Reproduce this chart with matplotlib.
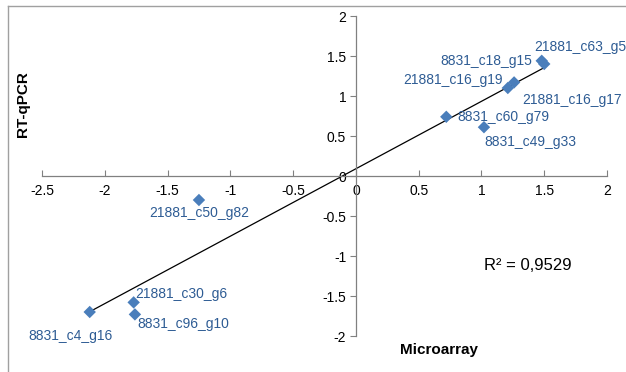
import numpy as np
import matplotlib
matplotlib.use("Agg")
import matplotlib.pyplot as plt
from matplotlib.lines import Line2D

# data
genes = ["8831_c4_g16", "21881_c30_g6", "8831_c96_g10", "21881_c50_g82",
         "8831_c60_g79", "8831_c49_g33", "21881_c16_g19", "21881_c16_g17",
         "8831_c18_g15", "21881_c63_g5"]
microarray = [-2.12, -1.77, -1.76, -1.25, 0.72, 1.02, 1.21, 1.26, 1.48, 1.50]
rt_qpcr = [-1.70, -1.58, -1.73, -0.30, 0.74, 0.61, 1.10, 1.17, 1.44, 1.40]
r2_text = "R² = 0,9529"

# label offsets in points (dx, dy, ha)
label_pos = {
    "8831_c4_g16": (-14, -17, "center"),
    "21881_c30_g6": (1, 6, "left"),
    "8831_c96_g10": (2, -7, "left"),
    "21881_c50_g82": (0, -9, "center"),
    "8831_c60_g79": (8, 0, "left"),
    "8831_c49_g33": (0, -11, "left"),
    "21881_c16_g19": (-4, 6, "right"),
    "21881_c16_g17": (6, -13, "left"),
    "8831_c18_g15": (-7, 0, "right"),
    "21881_c63_g5": (-7, 12, "left"),
}

plt.rcParams['font.family'] = ['Liberation Sans', 'DejaVu Sans']

fig = plt.figure(figsize=(6.26, 3.72), dpi=100)
ax = fig.add_axes([42 / 626, 36 / 372, 565 / 626, 320 / 372])

x = np.array(microarray)
y = np.array(rt_qpcr)

# trendline
k, b = np.polyfit(x, y, 1)
xs = np.array([x.min(), x.max()])
ax.plot(xs, k * xs + b, color="black", lw=0.9, zorder=2)

ax.scatter(x, y, marker="D", s=40, color="#4a7ebb", edgecolor="none", zorder=3)

for g, xi, yi in zip(genes, x, y):
    dx, dy, ha = label_pos[g]
    ax.annotate(g, (xi, yi), xytext=(dx, dy), textcoords="offset points",
                ha=ha, va="center", fontsize=10, color="#2e5c94", clip_on=False)

ax.set_xlim(-2.5, 2)
ax.set_ylim(-2, 2)
ax.spines["left"].set_position(("data", 0))
ax.spines["bottom"].set_position(("data", 0))
ax.spines["right"].set_visible(False)
ax.spines["top"].set_visible(False)
for s in ("left", "bottom"):
    ax.spines[s].set_color("#808080")
    ax.spines[s].set_linewidth(0.9)

ax.set_xticks([-2.5, -2, -1.5, -1, -0.5, 0, 0.5, 1, 1.5, 2])
ax.set_xticklabels(["-2.5", "-2", "-1.5", "-1", "-0.5", "0", "0.5", "1", "1.5", "2"])
ax.set_yticks([-2, -1.5, -1, -0.5, 0, 0.5, 1, 1.5, 2])
ax.set_yticklabels(["-2", "-1.5", "-1", "-0.5", "0", "0.5", "1", "1.5", "2"])
ax.tick_params(axis="x", direction="in", length=4, color="#808080", labelsize=10, pad=6)
ax.tick_params(axis="y", direction="out", length=4, color="#808080", labelsize=10, pad=3)
ax.patch.set_visible(False)

fig.text(528 / 626, 1 - 266 / 372, r2_text, fontsize=12, ha="center", va="center")
fig.text(439 / 626, 1 - 350 / 372, "Microarray", fontsize=11, fontweight="bold",
         ha="center", va="center")
fig.text(23 / 626, 1 - 104 / 372, "RT-qPCR", fontsize=11, fontweight="bold",
         rotation=90, ha="center", va="center")

# chart border (top and left visible)
fig.add_artist(Line2D([8 / 626, 8 / 626], [0, 1 - 6 / 372], transform=fig.transFigure,
                      color="#a0a0a0", lw=1))
fig.add_artist(Line2D([8 / 626, 1], [1 - 6 / 372, 1 - 6 / 372], transform=fig.transFigure,
                      color="#a0a0a0", lw=1))

fig.savefig("out.png", dpi=100)
